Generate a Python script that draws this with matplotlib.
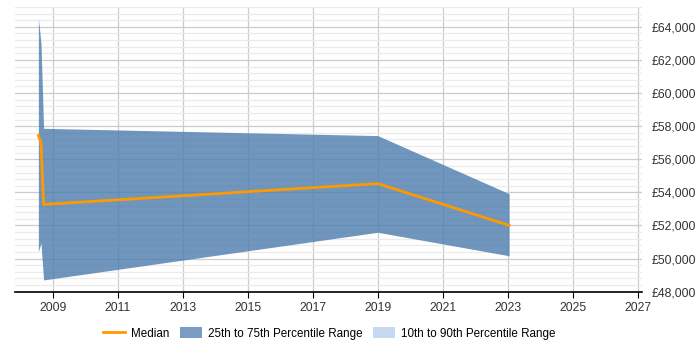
import matplotlib
matplotlib.use("Agg")
import matplotlib.pyplot as plt
from matplotlib.ticker import MultipleLocator, FuncFormatter
from matplotlib.patches import Patch
from matplotlib.lines import Line2D

plt.rcParams['font.family'] = ['Liberation Sans', 'DejaVu Sans']

years = [2008.56, 2008.64, 2008.72, 2019.0, 2023.04]
median = [57430, 57020, 53270, 54530, 52010]
p75 = [64530, 63000, 57870, 57430, 53920]
p25 = [50430, 50940, 48710, 51590, 50170]

fig = plt.figure(figsize=(7, 3.5), dpi=100)
ax = fig.add_axes([0.0214, 0.1666, 0.8953, 0.8134])

ax.fill_between(years, p25, p75, color='#4c7cae', alpha=0.8, linewidth=0, zorder=2)
ax.plot(years, median, color='#ff9900', linewidth=2, zorder=3)

ax.set_xlim(2007.84, 2027.12)
ax.set_ylim(48000, 65200)
ax.xaxis.set_major_locator(MultipleLocator(2, offset=1))
ax.yaxis.set_major_locator(MultipleLocator(2000))
ax.yaxis.set_minor_locator(MultipleLocator(400))
ax.yaxis.tick_right()
ax.yaxis.set_major_formatter(FuncFormatter(lambda v, p: f"£{int(v):,}"))
ax.grid(which='major', axis='both', color='#cccccc', linewidth=0.9, zorder=0)
ax.grid(which='minor', axis='y', color='#ebebeb', linewidth=0.9, zorder=0)
ax.set_axisbelow(True)
for s in ['top', 'right', 'left']:
    ax.spines[s].set_visible(False)
ax.spines['bottom'].set_color('black')
ax.spines['bottom'].set_linewidth(1.2)
ax.tick_params(axis='y', which='both', length=0, labelsize=8.7, colors='#333333', pad=7)
ax.tick_params(axis='x', length=4, labelsize=8.7, colors='#333333', labelcolor='#333333')
ax.tick_params(axis='x', color='black')

handles = [Line2D([0], [0], color='#ff9900', linewidth=2),
           Patch(facecolor='#7a9cc3', edgecolor='none'),
           Patch(facecolor='#c6d9ee', edgecolor='none')]
labels = ['Median', '25th to 75th Percentile Range', '10th to 90th Percentile Range']
fig.legend(handles, labels, loc='center', bbox_to_anchor=(0.47, 0.047), ncol=3,
           frameon=False, fontsize=8.4, handlelength=1.9, handleheight=1.1,
           columnspacing=0.9, handletextpad=0.5)

fig.savefig('out.png', dpi=100)
